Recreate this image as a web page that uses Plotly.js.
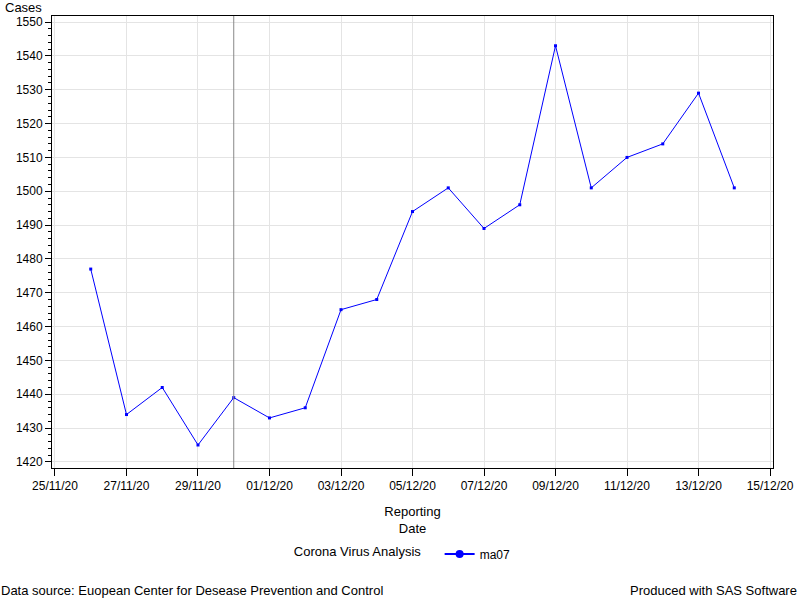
<!DOCTYPE html>
<html>
<head>
<meta charset="utf-8">
<script src="https://cdn.plot.ly/plotly-3.0.1.min.js"></script>
<style>html,body{margin:0;padding:0;background:#fff;}#chart{width:800px;height:600px;}</style>
</head>
<body>
<div id="chart"></div>
<script>
const dates = ["2020-11-26","2020-11-27","2020-11-28","2020-11-29","2020-11-30","2020-12-01","2020-12-02","2020-12-03","2020-12-04","2020-12-05","2020-12-06","2020-12-07","2020-12-08","2020-12-09","2020-12-10","2020-12-11","2020-12-12","2020-12-13","2020-12-14"];
const ma07 = [1477,1434,1442,1425,1439,1433,1436,1465,1468,1494,1501,1489,1496,1543,1501,1510,1514,1529,1501];
const refDate = "2020-11-30";
const seriesName = "ma07";
const legendTitle = "Corona Virus Analysis";
const footLeft = "Data source: Euopean Center for Desease Prevention and Control";
const footRight = "Produced with SAS Software";

const font = {family: "Liberation Sans, Arial, sans-serif", size: 12, color: "#000"};
const font13 = {family: "Liberation Sans, Arial, sans-serif", size: 13, color: "#000"};

const traces = [
  {x: dates, y: ma07, type: "scatter", mode: "lines+markers", name: seriesName,
   line: {color: "#0000ff", width: 1}, marker: {color: "#0000ff", size: 3, symbol: "square"},
   showlegend: false},
  {x: [null], y: [null], type: "scatter", mode: "lines+markers", name: seriesName,
   line: {color: "#0000ff", width: 2}, marker: {color: "#0000ff", size: 8, symbol: "circle"},
   showlegend: true, hoverinfo: "skip"}
];

const layout = {
  width: 800, height: 600,
  margin: {l: 52, r: 27, t: 16, b: 132},
  paper_bgcolor: "#fff", plot_bgcolor: "#fff",
  font: font,
  xaxis: {
    type: "date",
    range: ["2020-11-24 22:00", "2020-12-15 02:00"],
    tick0: "2020-11-25", dtick: 2*86400000,
    tickformat: "%d/%m/%y",
    ticks: "outside", ticklen: 7, tickcolor: "#000",
    showline: true, linecolor: "#000", linewidth: 1, mirror: true,
    showgrid: true, gridcolor: "#e4e4e4",
    zeroline: false,
    title: {text: "Reporting<br>Date", font: font13, standoff: 14},
    tickfont: font
  },
  yaxis: {
    range: [1418.2, 1551.8],
    dtick: 10, tick0: 1420,
    ticks: "outside", ticklen: 6, tickcolor: "#000",
    minor: {dtick: 2, ticks: "outside", ticklen: 3, tickcolor: "#000", showgrid: false},
    showline: true, linecolor: "#000", linewidth: 1, mirror: true,
    showgrid: true, gridcolor: "#e4e4e4",
    zeroline: false,
    tickfont: font
  },
  shapes: [
    {type: "line", xref: "x", yref: "paper", x0: refDate, x1: refDate, y0: 0, y1: 1,
     line: {color: "#888", width: 1}}
  ],
  showlegend: true,
  legend: {
    orientation: "h", x: 0.488, xanchor: "center", y: -0.19, yanchor: "middle",
    title: {text: legendTitle + "\u00a0\u00a0\u00a0", font: font13, side: "left"},
    font: font, bgcolor: "rgba(0,0,0,0)"
  },
  annotations: [
    {text: "Cases", xref: "paper", yref: "paper", x: -0.0665, y: 1.0177,
     xanchor: "left", yanchor: "middle", showarrow: false, font: font13, borderpad: 0},
    {text: footLeft, xref: "paper", yref: "paper", x: -0.0721, y: -0.272,
     xanchor: "left", yanchor: "middle", showarrow: false, font: font13, borderpad: 0},
    {text: footRight, xref: "paper", yref: "paper", x: 1.034, y: -0.272,
     xanchor: "right", yanchor: "middle", showarrow: false, font: font13, borderpad: 0}
  ]
};

Plotly.newPlot("chart", traces, layout, {displayModeBar: false, staticPlot: true});
</script>
</body>
</html>
